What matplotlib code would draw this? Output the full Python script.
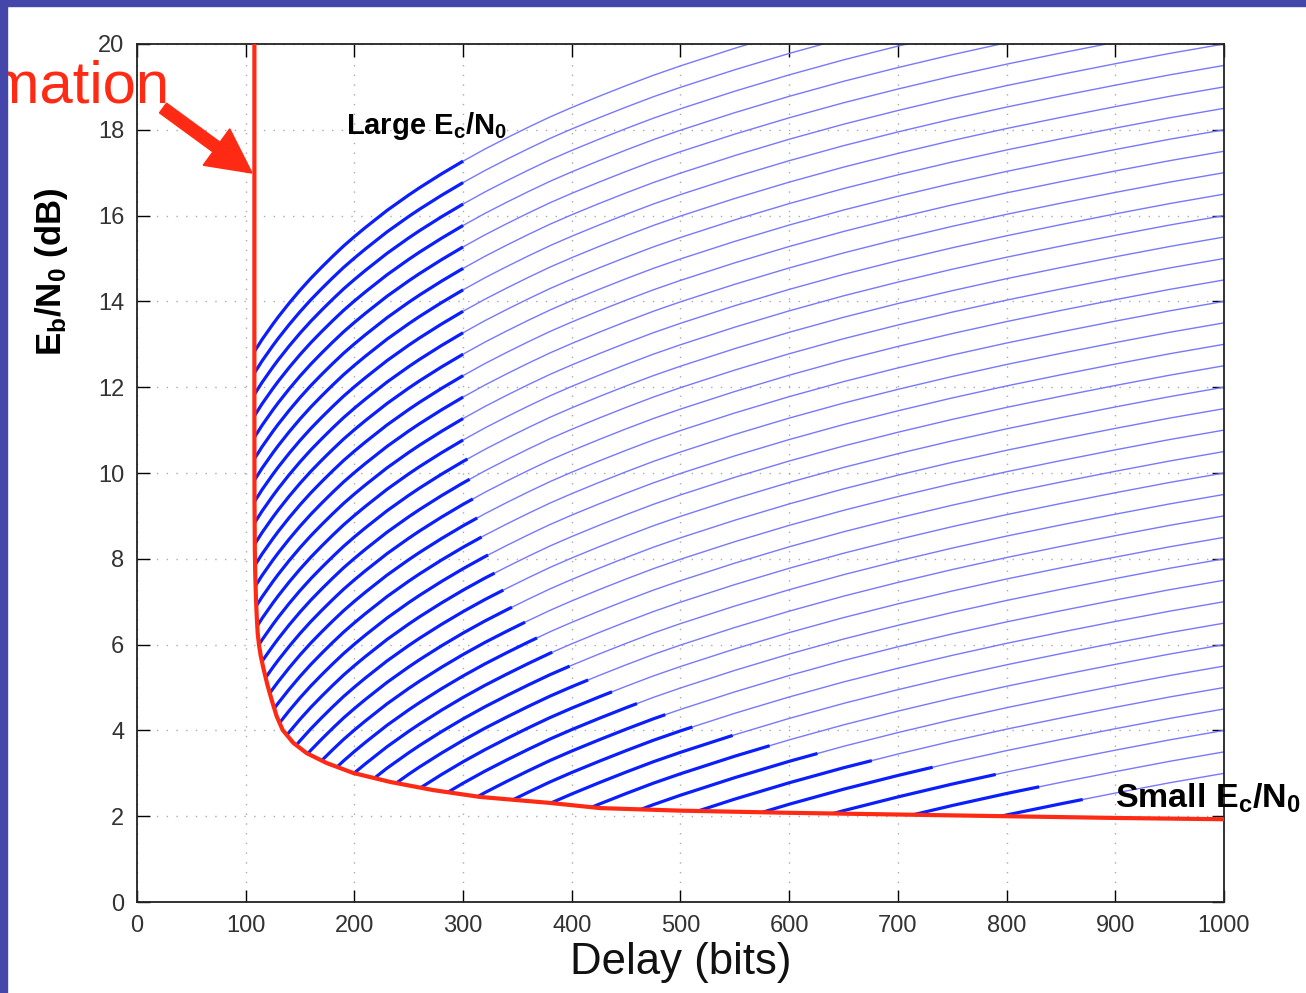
import numpy as np
import matplotlib
matplotlib.use('Agg')
import matplotlib.pyplot as plt
from matplotlib.patches import Polygon, Rectangle, FancyArrow

# red lower bound: delay (bits) vs Eb/N0 (dB)
bound_x = [108, 108, 108.1, 108.4, 108.8, 109.5, 110.1, 111.0, 112.3, 113.9, 116.2, 119.8, 123.9,
           128.5, 134.0, 143.8, 156.1, 174.5, 198.7, 232.8, 272.3, 315.5, 380, 426, 500, 600,
           700, 800, 900, 1000]
bound_y = [20, 11.7, 9.37, 8.2, 7.62, 7.04, 6.69, 6.27, 5.98, 5.73, 5.46, 5.08, 4.71,
           4.33, 4.01, 3.71, 3.47, 3.24, 3.01, 2.80, 2.61, 2.45, 2.31, 2.19, 2.13, 2.08,
           2.04, 2.0, 1.96, 1.93]

# shape shared by the blue curves: dB rise above the value at 100 bits
shape_x = [100, 105, 110, 115, 120, 125, 130, 135, 140, 145, 150, 160, 170, 180, 190,
           200, 210, 220, 230, 240, 250, 260, 270, 280, 290, 300, 320, 340, 360, 380,
           400, 425, 450, 475, 500, 550, 600, 650, 700, 750, 800, 850, 900, 950, 1000]
shape_db = [0, 0.21, 0.41, 0.61, 0.79, 0.97, 1.14, 1.30, 1.46, 1.61, 1.76, 2.04, 2.30, 2.55, 2.79,
            3.01, 3.22, 3.42, 3.62, 3.80, 3.98, 4.15, 4.31, 4.47, 4.62, 4.77, 5.05, 5.31, 5.56, 5.80,
            6.02, 6.28, 6.53, 6.77, 6.99, 7.40, 7.78, 8.13, 8.45, 8.75, 9.03, 9.29, 9.54, 9.78, 10.0]

# Eb/N0 each blue curve would reach at 1000 bits
curve_end_db = [22.5, 22.0, 21.5, 21.0, 20.5, 20.0, 19.5, 19.0, 18.5, 18.0,
                17.5, 17.0, 16.5, 16.0, 15.5, 15.0, 14.5, 14.0, 13.5, 13.0,
                12.5, 12.0, 11.5, 11.0, 10.5, 10.0, 9.5, 9.0, 8.5, 8.0,
                7.5, 7.0, 6.5, 6.0, 5.5, 5.0, 4.5, 4.0, 3.5, 3.0]

# delay where the dark part of each curve stops
dark_until = [300, 300, 300, 300, 300, 300, 300, 300, 300, 300,
              300, 300, 300, 300, 304, 306, 309, 313, 317, 323,
              329, 337, 345, 357, 368, 382, 398, 415, 437, 460,
              486, 511, 548, 582, 626, 676, 732, 790, 830, 870]

x_ticks = list(range(0, 1001, 100))
y_ticks = list(range(0, 21, 2))

plt.rcParams['font.family'] = ['Liberation Sans', 'DejaVu Sans']
plt.rcParams['mathtext.default'] = 'regular'

fig = plt.figure(figsize=(13.06, 9.93), dpi=100)
fig.patch.set_facecolor('white')
ax = fig.add_axes([0.1049, 0.0916, 0.8323, 0.8641])

# region above the bound, used to clip the blue curves
clip_pts = [(bound_x[0], 30)] + list(zip(bound_x, bound_y)) + [(1020, bound_y[-1]), (1020, 30)]
clip_poly = Polygon(clip_pts, closed=True, transform=ax.transData)

sx = np.array(shape_x, dtype=float)
sdb = np.array(shape_db)
for end_db, x_dark in zip(curve_end_db, dark_until):
    yy = end_db - shape_db[-1] + sdb
    y_dark = np.interp(x_dark, sx, yy)
    m = sx < x_dark
    xd = np.append(sx[m], x_dark)
    yd = np.append(yy[m], y_dark)
    xl = np.insert(sx[~m], 0, x_dark)
    yl = np.insert(yy[~m], 0, y_dark)
    thin, = ax.plot(xl, yl, color='#7878ff', lw=1.0, zorder=2)
    thick, = ax.plot(xd, yd, color='#0a1eff', lw=2.3, zorder=3, solid_capstyle='butt')
    thin.set_clip_path(clip_poly)
    thick.set_clip_path(clip_poly)

ax.plot(bound_x, bound_y, color='#ff2a14', lw=3.0, zorder=4, solid_capstyle='butt')

ax.set_xlim(0, 1000)
ax.set_ylim(0, 20)
ax.set_xticks(x_ticks)
ax.set_yticks(y_ticks)
ax.grid(True, linestyle=(0, (1, 6)), color='#aaaaaa', lw=1.0)
ax.tick_params(direction='in', length=9, width=1.0, top=True, right=True,
               labelsize=17, labelcolor='#333333', pad=9)
for s in ax.spines.values():
    s.set_linewidth(1.3)
    s.set_color('#222222')
ax.set_xlabel('Delay (bits)', fontsize=31.5, labelpad=4, color='#111111')

ax.text(192, 17.9, 'Large E$_c$/N$_0$', fontsize=21, fontweight='bold', ha='left', va='baseline')
ax.text(900, 2.19, 'Small E$_c$/N$_0$', fontsize=24.5, fontweight='bold', ha='left', va='baseline')

inch = fig.dpi_scale_trans
fig.text(0.52, 7.21, 'E$_b$/N$_0$ (dB)', transform=inch, rotation=90, fontsize=25,
         fontweight='bold', ha='center', va='center')

# slide overlay: red caption and arrow
fig.text(1.70, 8.90, 'Approximation', transform=inch, fontsize=43, color='#ff2a14',
         ha='right', va='baseline')
fig.patches.append(FancyArrow(1.63, 8.85, 0.89, -0.65, width=0.12, head_width=0.45,
                              head_length=0.44, length_includes_head=True,
                              color='#ff2a14', transform=inch, zorder=5))

# slide frame
fig.patches.append(Rectangle((0, 0), 0.07, 9.93, color='#4446aa', transform=inch, zorder=10))
fig.patches.append(Rectangle((0, 9.875), 13.06, 0.06, color='#4446aa', transform=inch, zorder=10))

fig.savefig('out.png', dpi=100)
